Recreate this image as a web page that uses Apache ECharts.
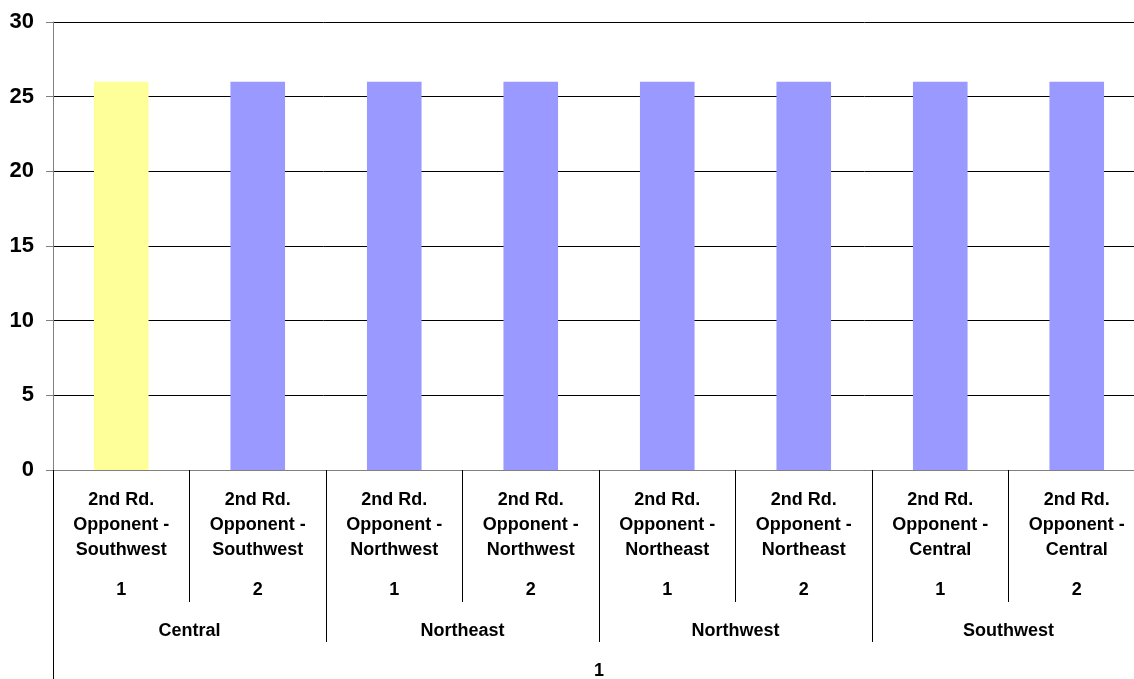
<!DOCTYPE html>
<html>
<head>
<meta charset="utf-8">
<script src="https://cdn.jsdelivr.net/npm/echarts@6/dist/echarts.min.js"></script>
<style>
html,body{margin:0;padding:0;background:#fff;}
#chart{width:1134px;height:679px;}
</style>
</head>
<body>
<div id="chart"></div>
<script>
const opponentLabels = [
  '2nd Rd.\nOpponent -\nSouthwest', '2nd Rd.\nOpponent -\nSouthwest',
  '2nd Rd.\nOpponent -\nNorthwest', '2nd Rd.\nOpponent -\nNorthwest',
  '2nd Rd.\nOpponent -\nNortheast', '2nd Rd.\nOpponent -\nNortheast',
  '2nd Rd.\nOpponent -\nCentral', '2nd Rd.\nOpponent -\nCentral'
];
const gameLabels = ['1', '2', '1', '2', '1', '2', '1', '2'];
const regions = ['Central', 'Northeast', 'Northwest', 'Southwest'];
const topLevel = ['1'];
const values = [26, 26, 26, 26, 26, 26, 26, 26];
const barColors = ['#FFFF99', '#9999FF', '#9999FF', '#9999FF', '#9999FF', '#9999FF', '#9999FF', '#9999FF'];
const yTicks = [0, 5, 10, 15, 20, 25, 30];

const FONT = 'Liberation Sans, Arial, sans-serif';
const chart = echarts.init(document.getElementById('chart'), null, {renderer: 'canvas'});

const categories = opponentLabels.map((o, i) => o + '|' + gameLabels[i] + '|' + i);

chart.setOption({
  animation: false,
  backgroundColor: '#ffffff',
  grid: {left: 53, top: 22, width: 1092, height: 448, containLabel: false, outerBoundsMode: 'none'},
  xAxis: [
    {
      type: 'category',
      position: 'bottom',
      data: categories,
      axisLine: {show: true, lineStyle: {color: '#808080', width: 1}},
      axisTick: {show: true, interval: 0, length: 132, lineStyle: {color: '#000', width: 1}},
      axisLabel: {
        interval: 0,
        margin: 17.5,
        formatter: function (v) {
          const parts = v.split('|');
          const lines = parts[0].split('\n').map(s => '{a|' + s + '}');
          return lines.join('\n') + '\n{b|' + parts[1] + '}';
        },
        rich: {
          a: {fontFamily: FONT, fontWeight: 'bold', fontSize: 18, color: '#000', lineHeight: 25, align: 'center'},
          b: {fontFamily: FONT, fontWeight: 'bold', fontSize: 18, color: '#000', lineHeight: 55, align: 'center'}
        }
      },
      splitLine: {show: false}
    },
    {
      type: 'category',
      position: 'bottom',
      data: regions,
      axisLine: {show: false},
      axisTick: {show: true, interval: 0, length: 172, lineStyle: {color: '#000', width: 1}},
      axisLabel: {interval: 0, margin: 152.5, fontFamily: FONT, fontWeight: 'bold', fontSize: 18, color: '#000'},
      splitLine: {show: false}
    },
    {
      type: 'category',
      position: 'bottom',
      data: topLevel,
      axisLine: {show: false},
      axisTick: {show: true, interval: 0, length: 209, lineStyle: {color: '#000', width: 1}},
      axisLabel: {interval: 0, margin: 192.5, fontFamily: FONT, fontWeight: 'bold', fontSize: 18, color: '#000'},
      splitLine: {show: false}
    }
  ],
  yAxis: {
    type: 'value',
    min: 0,
    max: 30,
    interval: 5,
    axisLine: {show: true, lineStyle: {color: '#808080', width: 1}},
    axisTick: {show: true, length: 7, lineStyle: {color: '#808080'}},
    axisLabel: {margin: 19, fontFamily: FONT, fontWeight: 'bold', fontSize: 22, color: '#000',
      formatter: v => yTicks.includes(v) ? String(v) : ''},
    splitLine: {show: true, lineStyle: {color: '#000', width: 1}}
  },
  series: [{
    type: 'bar',
    xAxisIndex: 0,
    data: values.map((v, i) => ({value: v, itemStyle: {color: barColors[i]}})),
    barCategoryGap: '60%'
  }]
});
</script>
</body>
</html>
